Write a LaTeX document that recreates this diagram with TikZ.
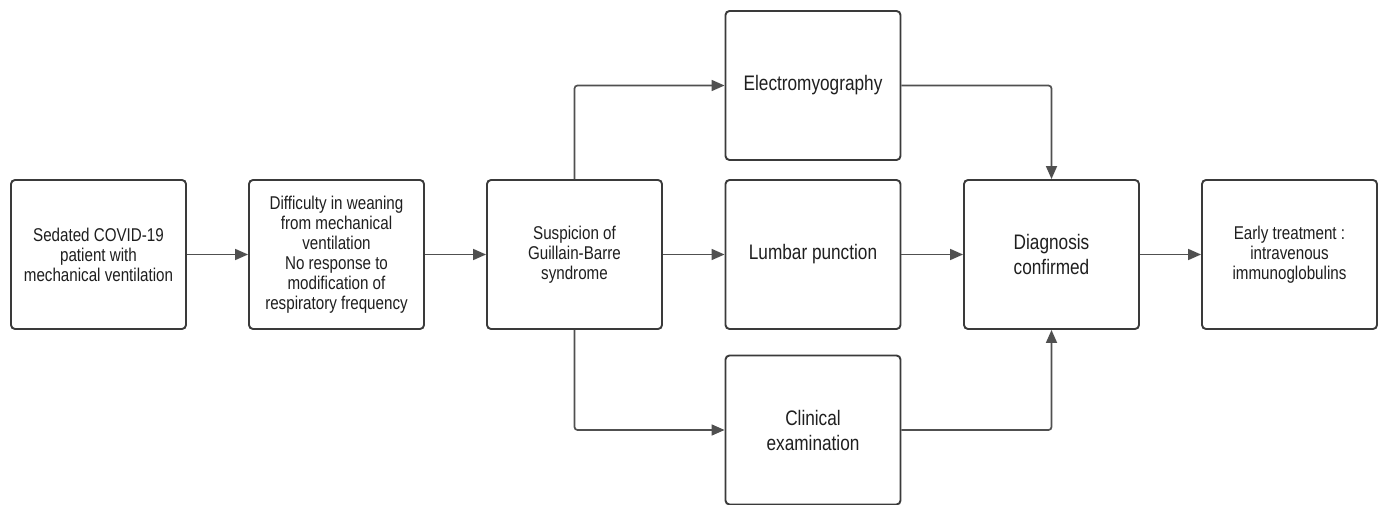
\documentclass[tikz,border=0pt]{standalone}
\usepackage{fontspec}
\setmainfont{Liberation Sans}[FakeStretch=0.82]
\usetikzlibrary{arrows.meta}
\definecolor{boxc}{HTML}{3A3A3A}
\definecolor{arrc}{HTML}{505050}
\begin{document}
\begin{tikzpicture}[x=1pt,y=-1pt,
  box/.style={draw=boxc,line width=1.9pt,rounded corners=4pt,minimum width=175pt,minimum height=149pt,inner sep=2pt,align=center,font=\fontsize{18.5}{20}\selectfont,text=black!88},
  bigbox/.style={box,font=\fontsize{21}{25}\selectfont},
  conn/.style={draw=arrc,line width=1.7pt,rounded corners=3pt,-{Triangle[length=13pt,width=11pt]}}]
\useasboundingbox[fill=white] (0,0) rectangle (1381,505);
\node[box] (b1) at (98.5,254.5) {Sedated COVID-19\\patient with\\mechanical ventilation};
\node[box] (b2) at (336.5,254.5) {Difficulty in weaning\\from mechanical\\ventilation\\No response to\\modification of\\respiratory frequency};
\node[box] (b3) at (574.5,254.5) {Suspicion of\\Guillain-Barre\\syndrome};
\node[bigbox] (b4) at (813,85.5) {Electromyography};
\node[bigbox] (b5) at (813,254.5) {Lumbar punction};
\node[bigbox] (b6) at (813,430) {Clinical\\examination};
\node[bigbox] (b7) at (1051.5,254.5) {Diagnosis\\confirmed};
\node[box] (b8) at (1289.5,254.5) {Early treatment :\\intravenous\\immunoglobulins};
\draw[conn] (b1) -- (b2);
\draw[conn] (b2) -- (b3);
\draw[conn] (b3) -- (b5);
\draw[conn] (b5) -- (b7);
\draw[conn] (b7) -- (b8);
\draw[conn] (b3.north) -- (b3.north |- b4.west) -- (b4.west);
\draw[conn] (b3.south) -- (b3.south |- b6.west) -- (b6.west);
\draw[conn] (b4.east) -- (b7.north |- b4.east) -- (b7.north);
\draw[conn] (b6.east) -- (b7.south |- b6.east) -- (b7.south);
\end{tikzpicture}
\end{document}
